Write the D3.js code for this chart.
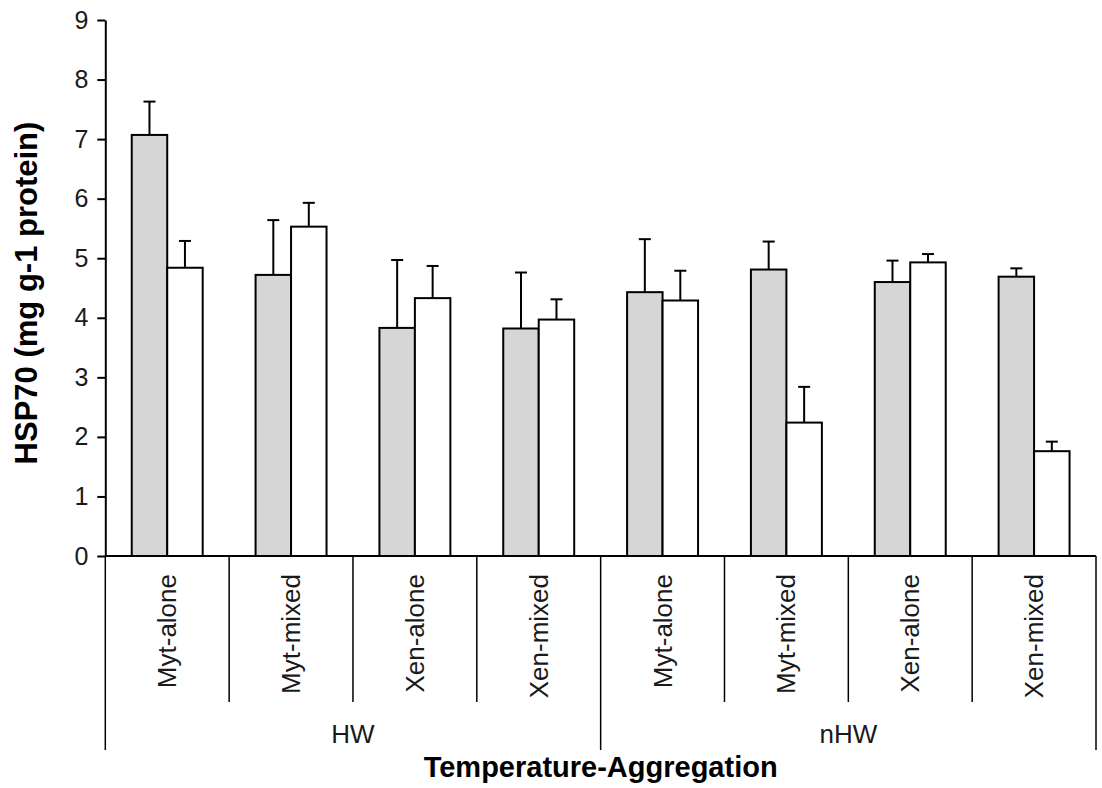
<!DOCTYPE html>
<html>
<head>
<meta charset="utf-8">
<script src="https://cdn.jsdelivr.net/npm/d3@7"></script>
<style>
  html, body { margin: 0; padding: 0; background: #fff; }
  svg { display: block; font-family: "Liberation Sans", Arial, sans-serif; }
</style>
</head>
<body>
<svg id="chart" width="1102" height="788"></svg>
<script>
// ---------------- data ----------------
const temperatures = ["HW", "nHW"];
const aggregations = ["Myt-alone", "Myt-mixed", "Xen-alone", "Xen-mixed"];
const seriesNames = ["grey", "white"];
// values in order HW(Myt-alone, Myt-mixed, Xen-alone, Xen-mixed), nHW(...)
const greyValues  = [7.07, 4.72, 3.83, 3.82, 4.43, 4.81, 4.60, 4.69];
const greyErrors  = [0.56, 0.92, 1.14, 0.94, 0.89, 0.47, 0.36, 0.14];
const whiteValues = [4.84, 5.53, 4.33, 3.97, 4.29, 2.24, 4.93, 1.76];
const whiteErrors = [0.45, 0.40, 0.54, 0.34, 0.50, 0.60, 0.14, 0.16];
const yTicks = [0, 1, 2, 3, 4, 5, 6, 7, 8, 9];
const yTitle = "HSP70 (mg g-1 protein)";
const xTitle = "Temperature-Aggregation";

// ---------------- build ----------------
(function () {
const groups = [];
temperatures.forEach(t => aggregations.forEach(a => groups.push({ temp: t, agg: a, key: t + "|" + a })));
const rows = [];
groups.forEach((g, i) => {
  rows.push({ key: g.key, series: "grey", value: greyValues[i], err: greyErrors[i] });
  rows.push({ key: g.key, series: "white", value: whiteValues[i], err: whiteErrors[i] });
});

const svg = d3.select("#chart");
const mLeft = 105.3, mRight = 1096, mTop = 20, mBottom = 556;

const x0 = d3.scaleBand().domain(groups.map(g => g.key)).range([mLeft, mRight]).paddingInner(0).paddingOuter(0);
const bw = x0.bandwidth();
const x1 = d3.scaleBand().domain(seriesNames).range([bw * 0.2135, bw * 0.7865]).padding(0);
const y = d3.scaleLinear().domain([0, 9]).range([mBottom, mTop]);
const fill = d3.scaleOrdinal().domain(seriesNames).range(["#d6d6d6", "#ffffff"]);

// bars
const g = svg.append("g");
g.selectAll("rect.bar").data(rows).join("rect")
  .attr("class", "bar")
  .attr("x", d => x0(d.key) + x1(d.series))
  .attr("y", d => y(d.value))
  .attr("width", x1.bandwidth())
  .attr("height", d => y(0) - y(d.value))
  .attr("fill", d => fill(d.series))
  .attr("stroke", "#000")
  .attr("stroke-width", 2);

// error bars
const capW = 12;
const eb = g.selectAll("g.err").data(rows).join("g").attr("class", "err")
  .attr("stroke", "#000").attr("stroke-width", 2);
eb.append("line")
  .attr("x1", d => x0(d.key) + x1(d.series) + x1.bandwidth() / 2)
  .attr("x2", d => x0(d.key) + x1(d.series) + x1.bandwidth() / 2)
  .attr("y1", d => y(d.value))
  .attr("y2", d => y(d.value + d.err));
eb.append("line")
  .attr("x1", d => x0(d.key) + x1(d.series) + x1.bandwidth() / 2 - capW / 2)
  .attr("x2", d => x0(d.key) + x1(d.series) + x1.bandwidth() / 2 + capW / 2)
  .attr("y1", d => y(d.value + d.err))
  .attr("y2", d => y(d.value + d.err));

// y axis
const yAxis = svg.append("g").attr("transform", `translate(${mLeft},0)`)
  .call(d3.axisLeft(y).tickValues(yTicks).tickFormat(d3.format("d")).tickSize(8).tickPadding(9).tickSizeOuter(0));
yAxis.select(".domain").attr("stroke", "#000").attr("stroke-width", 2);
yAxis.selectAll(".tick line").attr("stroke", "#000").attr("stroke-width", 2);
yAxis.selectAll(".tick text").attr("font-size", 25).attr("fill", "#1a1a1a")
  .attr("font-family", "'Liberation Sans', Arial, sans-serif");

// x axis line
svg.append("line").attr("x1", mLeft).attr("x2", mRight).attr("y1", mBottom).attr("y2", mBottom)
  .attr("stroke", "#000").attr("stroke-width", 2);

// multi-level category separators
const shortEnd = 702, longEnd = 750;
const boundaries = groups.map((gr, i) => ({ x: x0(gr.key), long: i % aggregations.length === 0 }));
boundaries.push({ x: mRight, long: true });
svg.append("g").selectAll("line").data(boundaries).join("line")
  .attr("x1", d => d.x).attr("x2", d => d.x)
  .attr("y1", mBottom).attr("y2", d => d.long ? longEnd : shortEnd)
  .attr("stroke", "#000").attr("stroke-width", 1.5);

// category labels (rotated)
svg.append("g").selectAll("text").data(groups).join("text")
  .attr("transform", d => `translate(${x0(d.key) + bw / 2 + 9},574) rotate(-90)`)
  .attr("text-anchor", "end")
  .attr("font-size", 26)
  .attr("fill", "#1a1a1a")
  .text(d => d.agg);

// temperature labels
svg.append("g").selectAll("text").data(temperatures).join("text")
  .attr("x", t => {
    const ks = groups.filter(gr => gr.temp === t).map(gr => gr.key);
    return (x0(ks[0]) + x0(ks[ks.length - 1]) + bw) / 2;
  })
  .attr("y", 743)
  .attr("text-anchor", "middle")
  .attr("font-size", 26)
  .attr("fill", "#1a1a1a")
  .text(t => t);

// axis titles
svg.append("text")
  .attr("x", (mLeft + mRight) / 2).attr("y", 777)
  .attr("text-anchor", "middle")
  .attr("font-size", 29).attr("font-weight", "bold")
  .text(xTitle);
svg.append("text")
  .attr("transform", `translate(37,293) rotate(-90)`)
  .attr("text-anchor", "middle")
  .attr("font-size", 31).attr("font-weight", "bold")
  .text(yTitle);
})();
</script>
</body>
</html>
